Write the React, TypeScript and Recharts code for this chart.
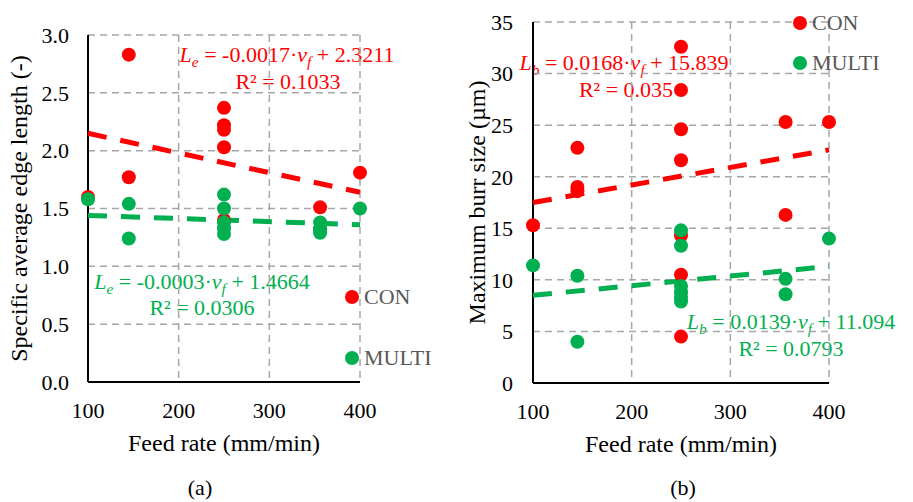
import React from 'react';
import { ScatterChart, Scatter, XAxis, YAxis, CartesianGrid, Legend } from 'recharts';

// feed rates (mm/min)
const feedTicks = [100, 200, 300, 400];
const edgeTicks = [0, 0.5, 1, 1.5, 2, 2.5, 3];
const burrTicks = [0, 5, 10, 15, 20, 25, 30, 35];

// (a) specific average edge length
const edgeConFeed = [100, 145, 145, 250, 250, 250, 250, 250, 356, 356, 400];
const edgeConVal = [1.6, 2.83, 1.77, 2.37, 2.22, 2.18, 2.03, 1.4, 1.51, 1.32, 1.81];
const edgeMultiFeed = [100, 145, 145, 250, 250, 250, 250, 250, 356, 356, 356, 400];
const edgeMultiVal = [1.58, 1.54, 1.24, 1.62, 1.5, 1.38, 1.33, 1.28, 1.38, 1.32, 1.29, 1.5];

// (b) maximum burr size
const burrConFeed = [100, 145, 145, 145, 250, 250, 250, 250, 250, 250, 250, 356, 356, 400];
const burrConVal = [15.3, 22.8, 19.0, 18.6, 32.6, 28.4, 24.6, 21.6, 14.3, 10.5, 4.5, 25.3, 16.3, 25.3];
const burrMultiFeed = [100, 145, 145, 250, 250, 250, 250, 250, 250, 356, 356, 400];
const burrMultiVal = [11.4, 10.4, 4.0, 14.8, 13.3, 9.4, 8.8, 8.3, 7.9, 10.1, 8.6, 14.0];

// linear trend lines, end points
const trendFeed = [100, 400];
const edgeConTrend = [2.15, 1.64];
const edgeMultiTrend = [1.44, 1.36];
const burrConTrend = [17.5, 22.6];
const burrMultiTrend = [8.5, 11.3];

const RED = '#ff0000';
const GREEN = '#00b050';
const FONT = '"Liberation Serif", "Times New Roman", serif';

const pts = (xs: number[], ys: number[]) => xs.map((x, i) => ({ x, y: ys[i] }));

const dot = (color: string) => (p: any) => <circle cx={p.cx} cy={p.cy} r={7} fill={color} />;

const LegendBox = ({ payload, gap }: any) => (
  <div style={{ position: 'relative' }}>
    {(payload || []).filter((p: any) => p.type !== 'none').map((p: any, i: number) => (
      <div key={p.value} style={{ position: 'absolute', left: 0, top: i * gap, height: 14, display: 'flex', alignItems: 'center', whiteSpace: 'nowrap' }}>
        <span style={{ display: 'inline-block', width: 14, height: 14, borderRadius: 7, background: p.color }} />
        <span style={{ marginLeft: 5, color: '#595959', fontSize: 22, fontFamily: FONT, lineHeight: '14px' }}>{p.value}</span>
      </div>
    ))}
  </div>
);

const Sub = ({ children }: any) => (
  <span style={{ fontSize: '0.7em', position: 'relative', top: '0.3em', lineHeight: 0 }}>{children}</span>
);

const EqText = ({ x, y, color, children }: any) => (
  <div style={{ position: 'absolute', left: x, top: y, transform: 'translate(-50%, -50%)', color, fontSize: 22, lineHeight: 1, whiteSpace: 'nowrap' }}>
    {children}
  </div>
);

const dash = { strokeWidth: 5, strokeDasharray: '19 14' };
const tickStyle = { fill: '#000', fontSize: 22, fontFamily: FONT };
const titleStyle = { fill: '#000', fontSize: 24, fontFamily: FONT };

export default function App() {
  return (
    <div style={{ position: 'absolute', left: 0, top: 0, width: 913, height: 502, background: '#fff', fontFamily: FONT }}>
      <style>{`.recharts-wrapper text, .recharts-text { font-family: ${FONT}; }`}</style>
      {/* annotations */}
      <EqText x={287} y={55} color={RED}><i>L</i><Sub><i>e</i></Sub> = -0.0017·<i>v</i><Sub><i>f</i></Sub> + 2.3211</EqText>
      <EqText x={288} y={82} color={RED}>R² = 0.1033</EqText>
      <EqText x={202} y={282} color={GREEN}><i>L</i><Sub><i>e</i></Sub> = -0.0003·<i>v</i><Sub><i>f</i></Sub> + 1.4664</EqText>
      <EqText x={202} y={308} color={GREEN}>R² = 0.0306</EqText>
      <EqText x={624} y={63} color={RED}><i>L</i><Sub><i>b</i></Sub> = 0.0168·<i>v</i><Sub><i>f</i></Sub> + 15.839</EqText>
      <EqText x={626} y={90} color={RED}>R² = 0.035</EqText>
      <EqText x={791} y={322} color={GREEN}><i>L</i><Sub><i>b</i></Sub> = 0.0139·<i>v</i><Sub><i>f</i></Sub> + 11.094</EqText>
      <EqText x={791} y={349} color={GREEN}>R² = 0.0793</EqText>
      <div style={{ position: 'absolute', left: 200, top: 488, transform: 'translate(-50%, -50%)', fontSize: 22, lineHeight: 1 }}>(a)</div>
      <div style={{ position: 'absolute', left: 683, top: 488, transform: 'translate(-50%, -50%)', fontSize: 22, lineHeight: 1 }}>(b)</div>

      <div style={{ position: 'absolute', left: 0, top: 0 }}>
        <ScatterChart width={460} height={502} margin={{ top: 35, right: 100, bottom: 0, left: 0 }} style={{ fontFamily: FONT }}>
          <CartesianGrid stroke="#a6a6a6" strokeWidth={1.5} strokeDasharray="7 5" />
          <XAxis type="number" dataKey="x" domain={[100, 400]} ticks={feedTicks} height={120}
            axisLine={{ stroke: '#000', strokeWidth: 2 }} tickLine={false} tickSize={0} tickMargin={20} tick={tickStyle}
            label={{ value: 'Feed rate (mm/min)', position: 'insideTop', offset: 52, ...titleStyle }} />
          <YAxis type="number" dataKey="y" domain={[0, 3]} ticks={edgeTicks} width={88} tickFormatter={(v: number) => v.toFixed(1)}
            axisLine={{ stroke: '#000', strokeWidth: 2 }} tickLine={false} tickSize={0} tickMargin={19} tick={tickStyle}
            label={{ value: 'Specific average edge length (-)', angle: -90, position: 'insideLeft', offset: 18, ...titleStyle, style: { textAnchor: 'middle' } }} />
          <Scatter data={pts(trendFeed, edgeConTrend)} legendType="none" line={{ stroke: RED, ...dash }} shape={() => <g />} isAnimationActive={false} />
          <Scatter data={pts(trendFeed, edgeMultiTrend)} legendType="none" line={{ stroke: GREEN, ...dash }} shape={() => <g />} isAnimationActive={false} />
          <Scatter name="CON" data={pts(edgeConFeed, edgeConVal)} fill={RED} shape={dot(RED)} isAnimationActive={false} />
          <Scatter name="MULTI" data={pts(edgeMultiFeed, edgeMultiVal)} fill={GREEN} shape={dot(GREEN)} isAnimationActive={false} />
          <Legend layout="vertical" align="center" verticalAlign="middle" wrapperStyle={{ left: 345, top: 290, width: 110, height: 80 }}
            content={(props: any) => <LegendBox {...props} gap={61} />} />
        </ScatterChart>
      </div>

      <div style={{ position: 'absolute', left: 440, top: 0 }}>
        <ScatterChart width={473} height={502} margin={{ top: 22, right: 84, bottom: 0, left: 0 }} style={{ fontFamily: FONT }}>
          <CartesianGrid stroke="#a6a6a6" strokeWidth={1.5} strokeDasharray="7 5" />
          <XAxis type="number" dataKey="x" domain={[100, 400]} ticks={feedTicks} height={119}
            axisLine={{ stroke: '#000', strokeWidth: 2 }} tickLine={false} tickSize={0} tickMargin={20} tick={tickStyle}
            label={{ value: 'Feed rate (mm/min)', position: 'insideTop', offset: 52, ...titleStyle }} />
          <YAxis type="number" dataKey="y" domain={[0, 35]} ticks={burrTicks} width={93}
            axisLine={{ stroke: '#000', strokeWidth: 2 }} tickLine={false} tickSize={0} tickMargin={20} tick={tickStyle}
            label={{ value: 'Maximum burr size (µm)', angle: -90, position: 'insideLeft', offset: 36, ...titleStyle, style: { textAnchor: 'middle' } }} />
          <Scatter data={pts(trendFeed, burrConTrend)} legendType="none" line={{ stroke: RED, ...dash }} shape={() => <g />} isAnimationActive={false} />
          <Scatter data={pts(trendFeed, burrMultiTrend)} legendType="none" line={{ stroke: GREEN, ...dash }} shape={() => <g />} isAnimationActive={false} />
          <Scatter name="CON" data={pts(burrConFeed, burrConVal)} fill={RED} shape={dot(RED)} isAnimationActive={false} />
          <Scatter name="MULTI" data={pts(burrMultiFeed, burrMultiVal)} fill={GREEN} shape={dot(GREEN)} isAnimationActive={false} />
          <Legend layout="vertical" align="center" verticalAlign="middle" wrapperStyle={{ left: 353, top: 16, width: 110, height: 60 }}
            content={(props: any) => <LegendBox {...props} gap={40} />} />
        </ScatterChart>
      </div>
    </div>
  );
}
